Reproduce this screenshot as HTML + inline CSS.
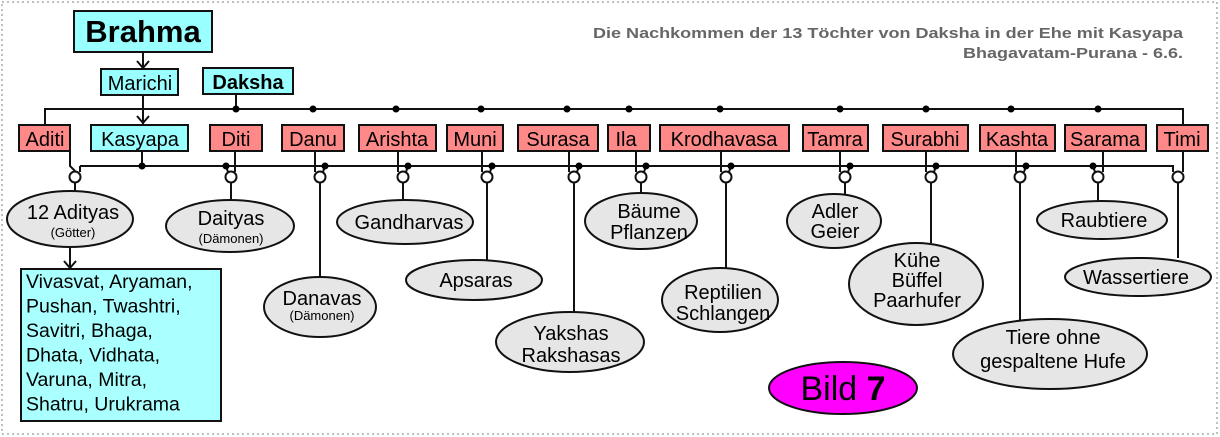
<!DOCTYPE html>
<html><head><meta charset="utf-8"><style>
html,body{margin:0;padding:0;background:#fff}
svg{display:block}
svg text{font-family:"Liberation Sans",Arial,Helvetica,sans-serif;fill:#000}
</style></head><body>
<svg width="1220" height="437" viewBox="0 0 1220 437" xmlns="http://www.w3.org/2000/svg" font-family="Liberation Sans, Arial, Helvetica, sans-serif">
<rect x="2" y="2" width="1215" height="432" fill="none" stroke="#aaa" stroke-width="1.5" stroke-dasharray="2,3"/>
<text x="1183" y="38" text-anchor="end" font-size="15" font-weight="bold" style="fill:#666" textLength="590" lengthAdjust="spacingAndGlyphs">Die Nachkommen der 13 Töchter von Daksha in der Ehe mit Kasyapa</text>
<text x="1183" y="58" text-anchor="end" font-size="15" font-weight="bold" style="fill:#666" textLength="220" lengthAdjust="spacingAndGlyphs">Bhagavatam-Purana - 6.6.</text>
<g stroke="#111" stroke-width="2" fill="none">
<line x1="143" y1="52" x2="143" y2="68"/><polyline points="137,61 143,68 149,61"/>
<line x1="143" y1="95" x2="143" y2="124"/><polyline points="137,116 143,123 149,116"/>
<line x1="236" y1="94" x2="236" y2="109"/>
<polyline points="45,125 45,109 1183,109 1183,125"/>
<line x1="142" y1="151" x2="142" y2="166"/>
<polyline points="80,166 1173,166 1173,172"/>
<polyline points="70,151 70,166 75,171"/>
<line x1="80" y1="166" x2="80" y2="172"/>
</g>
<g fill="#000">
<circle cx="142" cy="166" r="3.5"/>
<circle cx="236" cy="109" r="3.5"/><circle cx="313" cy="109" r="3.5"/><circle cx="396" cy="109" r="3.5"/><circle cx="481" cy="109" r="3.5"/><circle cx="567" cy="109" r="3.5"/><circle cx="629" cy="109" r="3.5"/><circle cx="720" cy="109" r="3.5"/><circle cx="840" cy="109" r="3.5"/><circle cx="926" cy="109" r="3.5"/><circle cx="1011" cy="109" r="3.5"/><circle cx="1098" cy="109" r="3.5"/>
</g>
<g stroke="#111" stroke-width="2" fill="none">
<line x1="235" y1="151" x2="235" y2="172"/><line x1="226" y1="166" x2="228" y2="172"/>
<line x1="315" y1="151" x2="315" y2="172"/><line x1="325" y1="166" x2="323" y2="172"/>
<line x1="398" y1="151" x2="398" y2="172"/><line x1="408" y1="166" x2="406" y2="172"/>
<line x1="482" y1="151" x2="482" y2="172"/><line x1="492" y1="166" x2="490" y2="172"/>
<line x1="569" y1="151" x2="569" y2="172"/><line x1="579" y1="166" x2="577" y2="172"/>
<line x1="636" y1="151" x2="636" y2="172"/><line x1="646" y1="166" x2="644" y2="172"/>
<line x1="721" y1="151" x2="721" y2="172"/><line x1="731" y1="166" x2="729" y2="172"/>
<line x1="840" y1="151" x2="840" y2="172"/><line x1="850" y1="166" x2="848" y2="172"/>
<line x1="926" y1="151" x2="926" y2="172"/><line x1="936" y1="166" x2="934" y2="172"/>
<line x1="1016" y1="151" x2="1016" y2="172"/><line x1="1026" y1="166" x2="1024" y2="172"/>
<line x1="1103" y1="151" x2="1103" y2="172"/><line x1="1093" y1="166" x2="1095" y2="172"/>
<line x1="1183" y1="151" x2="1183" y2="172"/>
</g>
<g fill="#000">
<circle cx="226" cy="166" r="3.5"/><circle cx="325" cy="166" r="3.5"/><circle cx="408" cy="166" r="3.5"/><circle cx="492" cy="166" r="3.5"/><circle cx="579" cy="166" r="3.5"/><circle cx="646" cy="166" r="3.5"/><circle cx="731" cy="166" r="3.5"/><circle cx="850" cy="166" r="3.5"/><circle cx="936" cy="166" r="3.5"/><circle cx="1026" cy="166" r="3.5"/><circle cx="1093" cy="166" r="3.5"/>
</g>
<g stroke="#111" stroke-width="2" fill="#fff">
<circle cx="75" cy="177" r="5.5"/><circle cx="231" cy="177" r="5.5"/><circle cx="320" cy="177" r="5.5"/><circle cx="403" cy="177" r="5.5"/><circle cx="487" cy="177" r="5.5"/><circle cx="574" cy="177" r="5.5"/><circle cx="641" cy="177" r="5.5"/><circle cx="726" cy="177" r="5.5"/><circle cx="845" cy="177" r="5.5"/><circle cx="931" cy="177" r="5.5"/><circle cx="1020" cy="177" r="5.5"/><circle cx="1098" cy="177" r="5.5"/><circle cx="1178" cy="177" r="5.5"/>
</g>
<g stroke="#111" stroke-width="2" fill="none">
<line x1="75" y1="183" x2="75" y2="192"/>
<line x1="231" y1="183" x2="231" y2="200"/>
<line x1="320" y1="183" x2="320" y2="277"/>
<line x1="403" y1="183" x2="403" y2="199"/>
<line x1="487" y1="183" x2="487" y2="260"/>
<line x1="574" y1="183" x2="574" y2="312"/>
<line x1="641" y1="183" x2="641" y2="193"/>
<line x1="726" y1="183" x2="726" y2="268"/>
<line x1="845" y1="183" x2="845" y2="194"/>
<line x1="931" y1="183" x2="931" y2="243"/>
<line x1="1020" y1="183" x2="1020" y2="320"/>
<line x1="1098" y1="183" x2="1098" y2="201"/>
<line x1="1178" y1="183" x2="1178" y2="258"/>
<line x1="70" y1="247" x2="70" y2="268"/><polyline points="64,261 70,268 76,261"/>
</g>
<g stroke="#111" stroke-width="2">
<rect x="74" y="11" width="138" height="41" fill="#9ff"/>
<rect x="101" y="69" width="77" height="26" fill="#9ff"/>
<rect x="203" y="68" width="90" height="26" fill="#9ff"/>
<rect x="91" y="125" width="97" height="26" fill="#9ff"/>
<rect x="21" y="269" width="200" height="152" fill="#aff"/>
<g fill="#f88">
<rect x="19" y="125" width="51" height="26"/>
<rect x="210" y="125" width="52" height="26"/>
<rect x="282" y="125" width="62" height="26"/>
<rect x="359" y="125" width="77" height="26"/>
<rect x="447" y="125" width="56" height="26"/>
<rect x="518" y="125" width="80" height="26"/>
<rect x="608" y="125" width="42" height="26"/>
<rect x="660" y="125" width="129" height="26"/>
<rect x="803" y="125" width="65" height="26"/>
<rect x="883" y="125" width="85" height="26"/>
<rect x="980" y="125" width="75" height="26"/>
<rect x="1065" y="125" width="81" height="26"/>
<rect x="1157" y="125" width="51" height="26"/>
</g>
<g fill="#e6e6e6">
<ellipse cx="70" cy="219" rx="63" ry="28"/>
<ellipse cx="230" cy="226" rx="64" ry="26"/>
<ellipse cx="320" cy="307" rx="56" ry="30"/>
<ellipse cx="405" cy="222" rx="68" ry="22"/>
<ellipse cx="474" cy="280" rx="68" ry="20"/>
<ellipse cx="570" cy="342" rx="74" ry="30"/>
<ellipse cx="641" cy="221" rx="56" ry="28"/>
<ellipse cx="720" cy="300" rx="58" ry="32"/>
<ellipse cx="834" cy="221" rx="47" ry="27"/>
<ellipse cx="916" cy="284" rx="67" ry="41"/>
<ellipse cx="1050" cy="354" rx="97" ry="35"/>
<ellipse cx="1102" cy="220" rx="65" ry="19"/>
<ellipse cx="1138" cy="277" rx="73" ry="19"/>
</g>
<ellipse cx="843" cy="388" rx="74" ry="26" fill="#f0f"/>
</g>
<g font-size="20" text-anchor="middle">
<text x="143" y="42" font-size="31" font-weight="bold">Brahma</text>
<text x="140" y="90">Marichi</text>
<text x="248" y="89" font-weight="bold">Daksha</text>
<text x="140" y="146">Kasyapa</text>
<text x="45" y="146">Aditi</text>
<text x="236" y="146">Diti</text>
<text x="313" y="146">Danu</text>
<text x="397" y="146">Arishta</text>
<text x="475" y="146">Muni</text>
<text x="558" y="146">Surasa</text>
<text x="626" y="146">Ila</text>
<text x="724" y="146">Krodhavasa</text>
<text x="835" y="146">Tamra</text>
<text x="925" y="146">Surabhi</text>
<text x="1017" y="146">Kashta</text>
<text x="1105" y="146">Sarama</text>
<text x="1182" y="146">Timi</text>
<text x="73" y="219">12 Adityas</text>
<text x="73" y="237" font-size="13">(Götter)</text>
<text x="231" y="225">Daityas</text>
<text x="231" y="243" font-size="13">(Dämonen)</text>
<text x="322" y="305">Danavas</text>
<text x="322" y="320" font-size="13">(Dämonen)</text>
<text x="409" y="229">Gandharvas</text>
<text x="476" y="287">Apsaras</text>
<text x="571" y="340">Yakshas</text>
<text x="571" y="362">Rakshasas</text>
<text x="649" y="218">Bäume</text>
<text x="649" y="239">Pflanzen</text>
<text x="723" y="299">Reptilien</text>
<text x="723" y="320">Schlangen</text>
<text x="835" y="218">Adler</text>
<text x="835" y="238">Geier</text>
<text x="917" y="267">Kühe</text>
<text x="917" y="287">Büffel</text>
<text x="917" y="307">Paarhufer</text>
<text x="1053" y="344">Tiere ohne</text>
<text x="1053" y="368">gespaltene Hufe</text>
<text x="1104" y="227">Raubtiere</text>
<text x="1136" y="284">Wassertiere</text>
<text x="843" y="400" font-size="34">Bild <tspan font-weight="bold">7</tspan></text>
</g>
<g font-size="19.5">
<text x="26" y="288">Vivasvat, Aryaman,</text>
<text x="26" y="312.5">Pushan, Twashtri,</text>
<text x="26" y="337">Savitri, Bhaga,</text>
<text x="26" y="361.5">Dhata, Vidhata,</text>
<text x="26" y="386">Varuna, Mitra,</text>
<text x="26" y="410.5">Shatru, Urukrama</text>
</g>
</svg>
</body></html>
